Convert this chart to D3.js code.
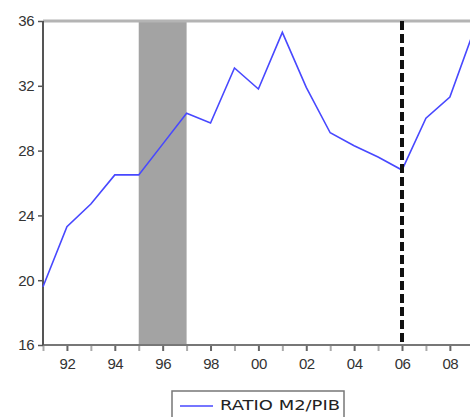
<!DOCTYPE html>
<html>
<head>
<meta charset="utf-8">
<script src="https://cdn.jsdelivr.net/npm/d3@7"></script>
<style>
  body { margin: 0; background: #fff; }
  svg { display: block; font-family: "DejaVu Sans", Arial, sans-serif; }
</style>
</head>
<body>
<svg id="chart"></svg>
<script>
// canvas size
const width = 470, height = 417;

// data
const years = [1991, 1992, 1993, 1994, 1995, 1996, 1997, 1998, 1999, 2000,
               2001, 2002, 2003, 2004, 2005, 2006, 2007, 2008, 2009];
const ratio = [19.6, 23.3, 24.7, 26.5, 26.5, 28.4, 30.3, 29.7, 33.1, 31.8,
               35.3, 31.9, 29.1, 28.3, 27.6, 26.8, 30.0, 31.3, 35.4];
const yTicks = [16, 20, 24, 28, 32, 36];
const xLabelYears = [1992, 1994, 1996, 1998, 2000, 2002, 2004, 2006, 2008];
const shadeStart = 1995, shadeEnd = 1997;
const breakYear = 2006;
const seriesName = "RATIO M2/PIB";

const svg = d3.select("#chart")
    .attr("width", width)
    .attr("height", height);

// scales (plot runs past the right edge, like the cropped original)
const xScale = d3.scaleLinear()
    .domain([1991, 2006])
    .range([43, 402]);

const yScale = d3.scaleLinear()
    .domain([16, 36])
    .range([345, 21]);

const x0 = xScale(1991), xEnd = width + 20;

// shaded period
svg.append("rect")
    .attr("x", xScale(shadeStart))
    .attr("y", yScale(36))
    .attr("width", xScale(shadeEnd) - xScale(shadeStart))
    .attr("height", yScale(16) - yScale(36))
    .attr("fill", "#a3a3a3");

// top frame line
svg.append("line")
    .attr("x1", x0).attr("x2", xEnd)
    .attr("y1", yScale(36)).attr("y2", yScale(36))
    .attr("stroke", "#b4b4b4")
    .attr("stroke-width", 3);

// x axis
const xAxis = svg.append("g")
    .attr("transform", `translate(0,${yScale(16)})`)
    .call(d3.axisBottom(xScale)
        .tickValues(d3.range(1991, 2010))
        .tickSize(6)
        .tickFormat(d => xLabelYears.includes(d) ? String(d).slice(2) : ""));
xAxis.select(".domain").remove();
xAxis.append("line")
    .attr("x1", x0).attr("x2", xEnd)
    .attr("stroke", "#777")
    .attr("stroke-width", 2);
xAxis.selectAll(".tick line")
    .attr("stroke", d => d % 2 === 0 ? "#666" : "#aaa")
    .attr("stroke-width", 2);
xAxis.selectAll(".tick text")
    .attr("y", 13)
    .attr("fill", "#333")
    .style("font-size", "15px")
    .style("letter-spacing", "-0.5px");

// y axis
const yAxis = svg.append("g")
    .attr("transform", `translate(${x0},0)`)
    .call(d3.axisLeft(yScale)
        .tickValues(yTicks)
        .tickSize(5)
        .tickFormat(d3.format("d")));
yAxis.select(".domain")
    .attr("d", `M0,${yScale(36)}V${yScale(16)}`)
    .attr("stroke", "#555")
    .attr("stroke-width", 2);
yAxis.selectAll(".tick line")
    .attr("stroke", "#555")
    .attr("stroke-width", 1.5);
yAxis.selectAll(".tick text")
    .attr("x", -9)
    .attr("fill", "#333")
    .style("font-size", "15px")
    .style("letter-spacing", "-0.5px");

// series line
const line = d3.line()
    .x((d, i) => xScale(years[i]))
    .y(d => yScale(d));

svg.append("path")
    .datum(ratio)
    .attr("fill", "none")
    .attr("stroke", "#4848ff")
    .attr("stroke-width", 1.6)
    .attr("d", line);

// break line
svg.append("line")
    .attr("x1", xScale(breakYear)).attr("x2", xScale(breakYear))
    .attr("y1", yScale(36)).attr("y2", yScale(16))
    .attr("stroke", "#111")
    .attr("stroke-width", 4)
    .attr("stroke-dasharray", "9,4");

// legend
const legend = svg.append("g")
    .attr("transform", "translate(172,391)");

legend.append("rect")
    .attr("x", 0).attr("y", 0)
    .attr("width", 172).attr("height", 40)
    .attr("fill", "#fff")
    .attr("stroke", "#777")
    .attr("stroke-width", 1.5);
legend.append("line")
    .attr("x1", 8).attr("x2", 41)
    .attr("y1", 15).attr("y2", 15)
    .attr("stroke", "#4848ff")
    .attr("stroke-width", 1.6);
legend.append("text")
    .attr("x", 48).attr("y", 15)
    .attr("dominant-baseline", "middle")
    .attr("fill", "#222")
    .attr("textLength", 120)
    .attr("lengthAdjust", "spacingAndGlyphs")
    .style("font-size", "14px")
    .text(seriesName);
</script>
</body>
</html>
